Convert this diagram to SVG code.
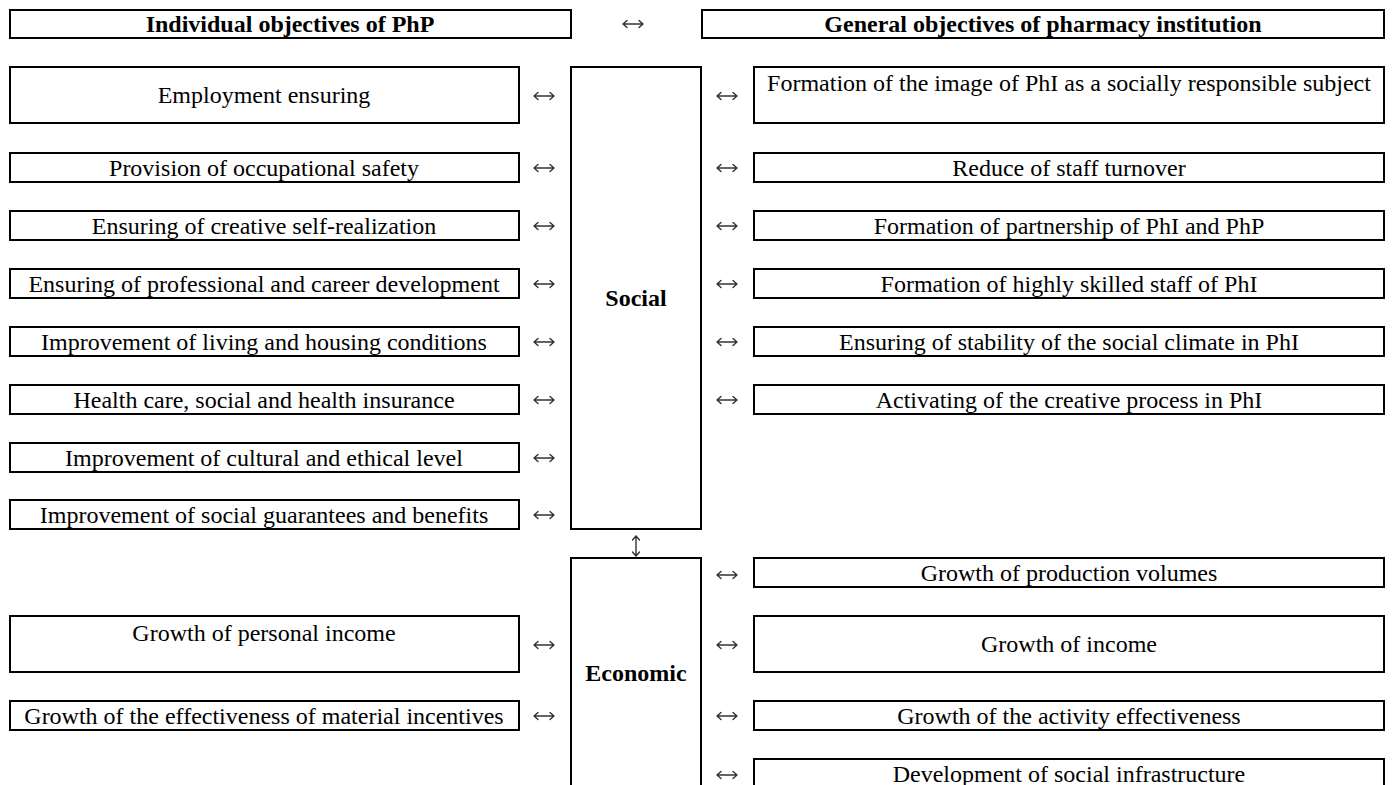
<svg xmlns="http://www.w3.org/2000/svg" width="1392" height="785" viewBox="0 0 1392 785">
<style>
.b{fill:#fff;stroke:#000;stroke-width:2}
.t{font-family:"Liberation Serif","Times New Roman",serif;font-size:24px;fill:#000;text-anchor:middle}
.h{font-weight:bold}
.ar{fill:none;stroke:#333;stroke-width:1.4;stroke-linecap:round;stroke-linejoin:round}
</style>
<defs>
<path id="ah" class="ar" d="M-10,0 H10 M-6,-3.5 L-10,0 L-6,3.5 M6,-3.5 L10,0 L6,3.5"/>
<path id="av" class="ar" d="M0,-10 V10 M-3.5,-6 L0,-10 L3.5,-6 M-3.5,6 L0,10 L3.5,6"/>
</defs>
<rect width="1392" height="785" fill="#fff"/>
<g id="header-left"><rect class="b" x="10" y="10" width="561" height="28"/><text class="t h" x="290" y="32">Individual objectives of PhP</text></g>
<g id="header-right"><rect class="b" x="702" y="10" width="682" height="28"/><text class="t h" x="1043" y="32">General objectives of pharmacy institution</text></g>
<g id="social"><rect class="b" x="571" y="67" width="130" height="462"/><text class="t h" x="636" y="306">Social</text></g>
<g id="economic"><rect class="b" x="571" y="558" width="130" height="250"/><text class="t h" x="636" y="681">Economic</text></g>
<g id="l1"><rect class="b" x="10" y="67" width="509" height="56"/><text class="t" x="264" y="103">Employment ensuring</text></g>
<g id="l2"><rect class="b" x="10" y="153" width="509" height="29"/><text class="t" x="264" y="176">Provision of occupational safety</text></g>
<g id="l3"><rect class="b" x="10" y="211" width="509" height="29"/><text class="t" x="264" y="234">Ensuring of creative self-realization</text></g>
<g id="l4"><rect class="b" x="10" y="269" width="509" height="29"/><text class="t" x="264" y="292">Ensuring of professional and career development</text></g>
<g id="l5"><rect class="b" x="10" y="327" width="509" height="29"/><text class="t" x="264" y="350">Improvement of living and housing conditions</text></g>
<g id="l6"><rect class="b" x="10" y="385" width="509" height="29"/><text class="t" x="264" y="408">Health care, social and health insurance</text></g>
<g id="l7"><rect class="b" x="10" y="443" width="509" height="29"/><text class="t" x="264" y="466">Improvement of cultural and ethical level</text></g>
<g id="l8"><rect class="b" x="10" y="500" width="509" height="29"/><text class="t" x="264" y="523">Improvement of social guarantees and benefits</text></g>
<g id="l9"><rect class="b" x="10" y="616" width="509" height="56"/><text class="t" x="264" y="641">Growth of personal income</text></g>
<g id="l10"><rect class="b" x="10" y="701" width="509" height="29"/><text class="t" x="264" y="724">Growth of the effectiveness of material incentives</text></g>
<g id="r1"><rect class="b" x="754" y="67" width="630" height="56"/><text class="t" x="1069" y="91">Formation of the image of PhI as a socially responsible subject</text></g>
<g id="r2"><rect class="b" x="754" y="153" width="630" height="29"/><text class="t" x="1069" y="176">Reduce of staff turnover</text></g>
<g id="r3"><rect class="b" x="754" y="211" width="630" height="29"/><text class="t" x="1069" y="234">Formation of partnership of PhI and PhP</text></g>
<g id="r4"><rect class="b" x="754" y="269" width="630" height="29"/><text class="t" x="1069" y="292">Formation of highly skilled staff of PhI</text></g>
<g id="r5"><rect class="b" x="754" y="327" width="630" height="29"/><text class="t" x="1069" y="350">Ensuring of stability of the social climate in PhI</text></g>
<g id="r6"><rect class="b" x="754" y="385" width="630" height="29"/><text class="t" x="1069" y="408">Activating of the creative process in PhI</text></g>
<g id="r7"><rect class="b" x="754" y="558" width="630" height="29"/><text class="t" x="1069" y="581">Growth of production volumes</text></g>
<g id="r8"><rect class="b" x="754" y="616" width="630" height="56"/><text class="t" x="1069" y="652">Growth of income</text></g>
<g id="r9"><rect class="b" x="754" y="701" width="630" height="29"/><text class="t" x="1069" y="724">Growth of the activity effectiveness</text></g>
<g id="r10"><rect class="b" x="754" y="759" width="630" height="50"/><text class="t" x="1069" y="782">Development of social infrastructure</text></g>
<g id="connectors">
<use href="#ah" x="633" y="24"/>
<use href="#ah" x="544" y="96"/>
<use href="#ah" x="544" y="168"/>
<use href="#ah" x="544" y="226"/>
<use href="#ah" x="544" y="284"/>
<use href="#ah" x="544" y="342"/>
<use href="#ah" x="544" y="400"/>
<use href="#ah" x="544" y="458"/>
<use href="#ah" x="544" y="515"/>
<use href="#ah" x="544" y="645"/>
<use href="#ah" x="544" y="716"/>
<use href="#ah" x="727" y="96"/>
<use href="#ah" x="727" y="168"/>
<use href="#ah" x="727" y="226"/>
<use href="#ah" x="727" y="284"/>
<use href="#ah" x="727" y="342"/>
<use href="#ah" x="727" y="400"/>
<use href="#ah" x="727" y="575"/>
<use href="#ah" x="727" y="645"/>
<use href="#ah" x="727" y="716"/>
<use href="#ah" x="727" y="775"/>
<use href="#av" x="636" y="546"/>
</g>
</svg>
